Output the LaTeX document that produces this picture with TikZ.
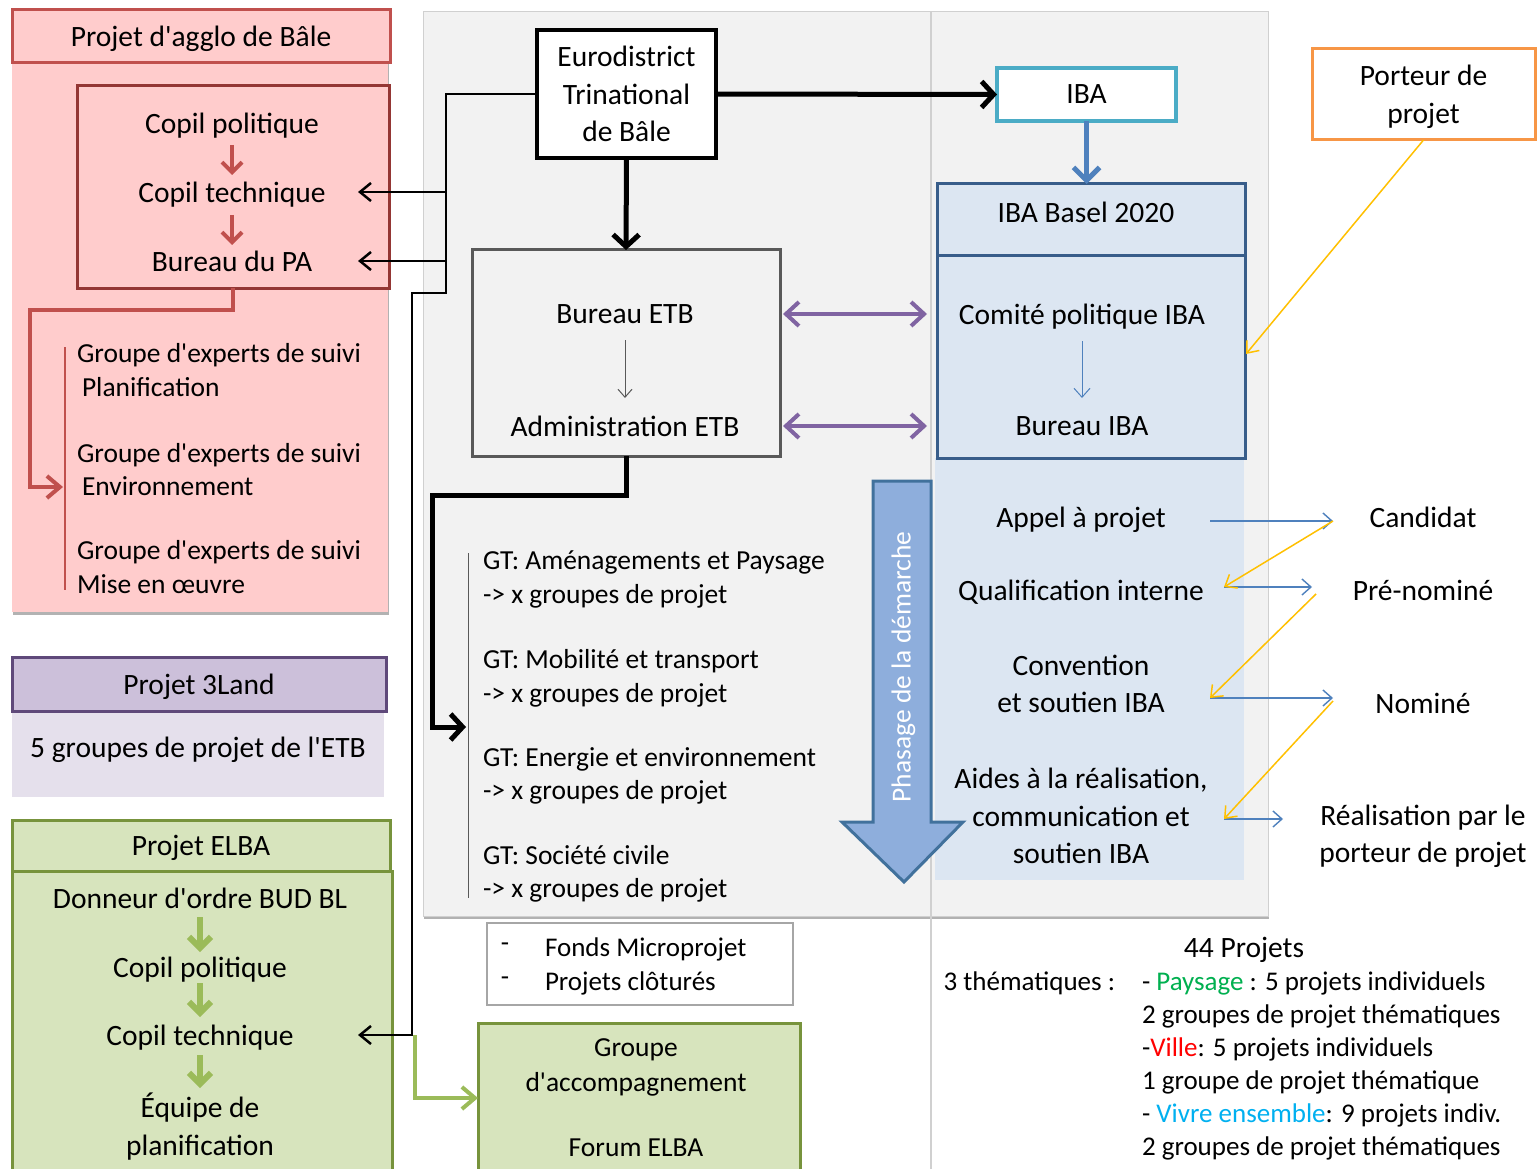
\documentclass[tikz,border=0pt]{standalone}
\usepackage{fontspec}
\setmainfont{Carlito}[Ligatures=TeXOff]
\usetikzlibrary{arrows.meta,shadows,calc}
\definecolor{cpink}{HTML}{FFCCCC}
\definecolor{cred}{HTML}{C0504D}
\definecolor{cdred}{HTML}{943634}
\definecolor{cpurH}{HTML}{CCC0DA}
\definecolor{cpurB}{HTML}{E5E0EC}
\definecolor{cpurD}{HTML}{5F497A}
\definecolor{cpurA}{HTML}{8064A2}
\definecolor{cgrF}{HTML}{D7E4BD}
\definecolor{cgrD}{HTML}{77933C}
\definecolor{cgrA}{HTML}{9BBB59}
\definecolor{cgray}{HTML}{F2F2F2}
\definecolor{cgrayL}{HTML}{D0D0D0}
\definecolor{cgrayM}{HTML}{A6A6A6}
\definecolor{cgrayD}{HTML}{595959}
\definecolor{cblueF}{HTML}{DCE6F2}
\definecolor{cblueD}{HTML}{385D8A}
\definecolor{cblue}{HTML}{4F81BD}
\definecolor{cteal}{HTML}{4BACC6}
\definecolor{corange}{HTML}{F79646}
\definecolor{cyel}{HTML}{FFC000}
\definecolor{cphase}{HTML}{8EAEDC}
\definecolor{cphaseD}{HTML}{41719C}
\definecolor{cgreenT}{HTML}{00B050}
\definecolor{credT}{HTML}{FF0000}
\definecolor{ccyanT}{HTML}{00B0F0}
\tikzset{
  fmain/.style={font=\fontsize{29.5}{37.5}\selectfont},
  fsmall/.style={font=\fontsize{27.5}{33.5}\selectfont},
  fbot/.style={font=\fontsize{27}{33}\selectfont},
  txt/.style={inner sep=0pt, outer sep=0pt, align=center, text depth=0pt, fmain},
  stxt/.style={inner sep=0pt, outer sep=0pt, align=left, text depth=0pt, fsmall},
  boxn/.style={inner sep=0pt, outer sep=0pt, anchor=north west, align=center, text depth=0pt, fmain},
  blkthick/.style={draw=black, line width=5pt, -{Straight Barb[length=12pt,width=26pt]}},
  blkthin/.style={draw=black, line width=2.5pt, -{Straight Barb[length=11pt,width=18pt]}},
  redcon/.style={draw=cred, line width=4pt, -{Straight Barb[length=13pt,width=22pt]}},
  redsm/.style={draw=cred, line width=4pt, -{Straight Barb[length=10pt,width=20pt]}},
  grsm/.style={draw=cgrA, line width=6pt, -{Straight Barb[length=11pt,width=22pt]}},
  grcon/.style={draw=cgrA, line width=4pt, -{Straight Barb[length=13pt,width=22pt]}},
  purdbl/.style={draw=cpurA, line width=4pt, {Straight Barb[length=13pt,width=24pt]}-{Straight Barb[length=13pt,width=24pt]}},
  bluethick/.style={draw=cblue, line width=5pt, -{Straight Barb[length=13pt,width=26pt]}},
  bluethin/.style={draw=cblue, line width=1.4pt, -{Straight Barb[length=9pt,width=16pt]}},
  yelthin/.style={draw=cyel, line width=1.5pt, -{Straight Barb[length=10pt,width=16pt]}},
  graythin/.style={draw=cgrayD, line width=1pt, -{Straight Barb[length=8pt,width=14pt]}},
  softshadow/.style={drop shadow={shadow xshift=1pt, shadow yshift=-3pt, opacity=0.3, fill=black}}
}
\begin{document}
\begin{tikzpicture}[x=1pt,y=-1pt]
\useasboundingbox (0,0) rectangle (1540,1169);
\fill[white] (0,0) rectangle (1540,1169);
% ---------- backgrounds ----------
\path[fill=cgray, draw=cgrayL, line width=1pt, softshadow] (423,12) rectangle (1268,916);
\draw[cgrayL, line width=1.2pt] (931,12) -- (931,1169);
\path[fill=cpink, softshadow] (12,10) rectangle (388,612);
\fill[cpurB] (12,711) rectangle (384,797);
\fill[cblueF] (935,458) rectangle (1244,880);

% ---------- Projet d'agglo ----------
\node[boxn, draw=cred, line width=3pt, fill=cpink, minimum width=378pt, minimum height=53pt] (agglo) at (12,10) {Projet d'agglo de Bâle};
\node[boxn, draw=cdred, line width=3pt, minimum width=312pt, minimum height=202pt] (copilbox) at (77,86) {};
\node[txt] (aP) at (232,123) {Copil politique};
\node[txt] (aT) at (232,192) {Copil technique};
\node[txt] (aB) at (232,261) {Bureau du PA};
\draw[redsm, shorten <=22pt, shorten >=17pt] (aP.center) -- (aT.center);
\draw[redsm, shorten <=23pt, shorten >=16pt] (aT.center) -- (aB.center);

\coordinate (expT) at (65,347);
\coordinate (expB) at (65,590);
\coordinate (expTip) at (63,487);
\draw[cred, line width=1.2pt] (expT) -- (expB);
\node[stxt, anchor=west] (ex1) at (77,370) {Groupe d'experts de suivi\\\hspace*{5pt}Planification};
\node[stxt, anchor=west] (ex2) at (77,469.5) {Groupe d'experts de suivi\\\hspace*{5pt}Environnement};
\node[stxt, anchor=west] (ex3) at (77,567) {Groupe d'experts de suivi\\Mise en œuvre};
\draw[redcon] (copilbox.south) -- ++(0,22) -| ([xshift=-33pt]expTip) -- (expTip);

% ---------- Projet 3Land ----------
\node[boxn, draw=cpurD, line width=3pt, fill=cpurH, minimum width=374pt, minimum height=54pt] (p3) at (12,657) {Projet 3Land};
\node[txt] (p3t) at (198,747) {5 groupes de projet de l'ETB};

% ---------- Projet ELBA ----------
\node[boxn, draw=cgrD, line width=3pt, fill=cgrF, minimum width=380pt, minimum height=320pt] (elbaB) at (12,871) {};
\node[boxn, draw=cgrD, line width=3pt, fill=cgrF, minimum width=378pt, minimum height=51pt] (elba) at (12,820) {Projet ELBA};
\node[txt] (gD) at (200,898) {Donneur d'ordre BUD BL};
\node[txt] (gP) at (200,967) {Copil politique};
\node[txt] (gT) at (200,1035) {Copil technique};
\node[txt] (gE) at (200,1124) {Équipe de\\planification};
\draw[grsm, shorten <=19pt, shorten >=15pt] (gD.center) -- (gP.center);
\draw[grsm, shorten <=16pt, shorten >=18pt] (gP.center) -- (gT.center);
\draw[grsm, shorten <=20pt, shorten >=36pt] (gT.center) -- (gE.center);

% ---------- Eurodistrict / ETB ----------
\node[boxn, draw=black, line width=3.5pt, fill=white, minimum width=179pt, minimum height=128pt] (euro) at (537,30) {Eurodistrict\\Trinational\\de Bâle};
\node[boxn, draw=cgrayD, line width=3pt, fill=cgray, minimum width=308pt, minimum height=206pt] (etb) at (472,250) {};
\node[txt] (tBur) at (625,314) {Bureau ETB};
\node[txt] (tAdm) at (625,426) {Administration ETB};
\draw[graythin, shorten <=26pt, shorten >=28pt] (tBur.center) -- (tAdm.center);

\coordinate (gtT) at (468,553);
\coordinate (gtB) at (468,898);
\coordinate (gtTip) at (466,727);
\draw[cgrayD, line width=1pt] (gtT) -- (gtB);
\node[stxt, anchor=west] (gt1) at (483,577) {GT: Aménagements et Paysage\\-> x groupes de projet};
\node[stxt, anchor=west] (gt2) at (483,676) {GT: Mobilité et transport\\-> x groupes de projet};
\node[stxt, anchor=west] (gt3) at (483,773.5) {GT: Energie et environnement\\-> x groupes de projet};
\node[stxt, anchor=west] (gt4) at (483,871.5) {GT: Société civile\\-> x groupes de projet};
\draw[blkthick] (etb.south) -- ++(0,39) -| ([xshift=-34pt]gtTip) -- (gtTip);

% ---------- IBA ----------
\node[boxn, draw=cteal, line width=3.5pt, fill=white, minimum width=179pt, minimum height=53pt] (iba) at (997,68) {IBA};
\node[boxn, draw=cblueD, line width=3pt, fill=cblueF, minimum width=308pt, minimum height=274pt] (ibaB) at (937,184) {};
\draw[cblueD, line width=3pt] ($(ibaB.north west)+(0,72)$) -- ($(ibaB.north east)+(0,72)$);
\node[txt] (ibaH) at (1086,212) {IBA Basel 2020};
\node[txt] (tCom) at (1082,314) {Comité politique IBA};
\node[txt] (tBIBA) at (1082,426) {Bureau IBA};
\draw[bluethin, line width=1pt, shorten <=27pt, shorten >=28pt] (tCom.center) -- (tBIBA.center);

\node[boxn, draw=corange, line width=3pt, fill=white, minimum width=223pt, minimum height=91pt] (port) at (1312,49) {Porteur de\\projet};
\coordinate (portTip) at (1246,354);
\draw[yelthin] (port.south) -- (portTip);

% main connectors
\draw[blkthick] (euro.east) -- (iba.west);
\draw[blkthick] (euro.south) -- (etb.north);
\draw[bluethick] (iba.south) -- (iba.south |- ibaB.north);
\draw[purdbl] ([xshift=3pt]etb.east |- tBur) -- ([xshift=-10pt]ibaB.west |- tBur);
\draw[purdbl] ([xshift=3pt]etb.east |- tAdm) -- ([xshift=-10pt]ibaB.west |- tAdm);

\coordinate (jA) at (446,293);
\coordinate (jB) at (412,1035);
\coordinate (tipAT) at (358,192);
\coordinate (tipAB) at (358,261);
\coordinate (tipGT) at (358,1035);
\draw[blkthin] (euro.west) -| (jA) -| (jB) -- (tipGT);
\draw[blkthin] (jA |- tipAT) -- (tipAT);
\draw[blkthin] (jA |- tipAB) -- (tipAB);

% ---------- Phasage arrow ----------
\path[fill=cphase, draw=cphaseD, line width=3pt, line join=miter]
  (873,481) -- (931,481) -- (931,822) -- (963,822) -- (904,882) -- (842,822) -- (873,822) -- cycle;
\node[txt, fsmall, text=white, rotate=90] (phase) at (901,667) {Phasage de la démarche};

% ---------- process ----------
\node[txt] (pA) at (1081,517) {Appel à projet};
\node[txt] (pQ) at (1081,590) {Qualification interne};
\node[txt] (pC) at (1081,684) {Convention\\et soutien IBA};
\node[txt] (pR) at (1081,816) {Aides à la réalisation,\\communication et\\soutien IBA};
\node[txt] (rC) at (1423,517) {Candidat};
\node[txt] (rP) at (1423,590) {Pré-nominé};
\node[txt] (rN) at (1423,703) {Nominé};
\node[txt] (rR) at (1423,834) {Réalisation par le\\porteur de projet};

\coordinate (bA) at (1210,521);
\coordinate (bAe) at (1333,521);
\coordinate (bQ) at (1224,587);
\coordinate (bQe) at (1312,587);
\coordinate (yQ) at (1316,594);
\coordinate (bC) at (1210,698);
\coordinate (bCe) at (1333,698);
\coordinate (yC) at (1333,701);
\coordinate (bR) at (1224,819);
\coordinate (bRe) at (1283,819);
\draw[bluethin] (bA) -- (bAe);
\draw[bluethin] (bQ) -- (bQe);
\draw[bluethin] (bC) -- (bCe);
\draw[bluethin] (bR) -- (bRe);
\draw[yelthin] (bAe) -- (bQ);
\draw[yelthin] (yQ) -- (bC);
\draw[yelthin] (yC) -- (bR);

% ---------- bottom ----------
\node[boxn, draw=cgrayM, line width=1.5pt, fill=white, minimum width=306pt, minimum height=82pt] (fonds) at (487,923) {};
\node[txt, fbot] (d1) at (505,947) {-};
\node[txt, fbot] (d2) at (505,981) {-};
\node[stxt, fbot, anchor=west] (f1) at (545,947) {Fonds Microprojet};
\node[stxt, fbot, anchor=west] (f2) at (545,981) {Projets clôturés};

\node[boxn, draw=cgrD, line width=3pt, fill=cgrF, minimum width=322pt, minimum height=150pt] (grp) at (478,1023) {};
\node[txt, fsmall] (grp1) at (636,1048) {Groupe};
\node[txt, fsmall] (grp2) at (636,1082) {d'accompagnement};
\node[txt, fsmall] (grp3) at (636,1148) {Forum ELBA};
\draw[grcon] ([xshift=3pt]jB) |- (grp.west);

\node[txt] (n44) at (1244,947) {44 Projets};
\node[txt, fbot, anchor=east] (them) at (1115,981) {3 thématiques :};
\node[stxt, fbot, anchor=west] (list) at (1142,1063.5) {- \textcolor{cgreenT}{Paysage} : 5 projets individuels\\
2 groupes de projet thématiques\\
-\textcolor{credT}{Ville}: 5 projets individuels\\
1 groupe de projet thématique\\
- \textcolor{ccyanT}{Vivre ensemble}: 9 projets indiv.\\
2 groupes de projet thématiques};
\end{tikzpicture}
\end{document}
